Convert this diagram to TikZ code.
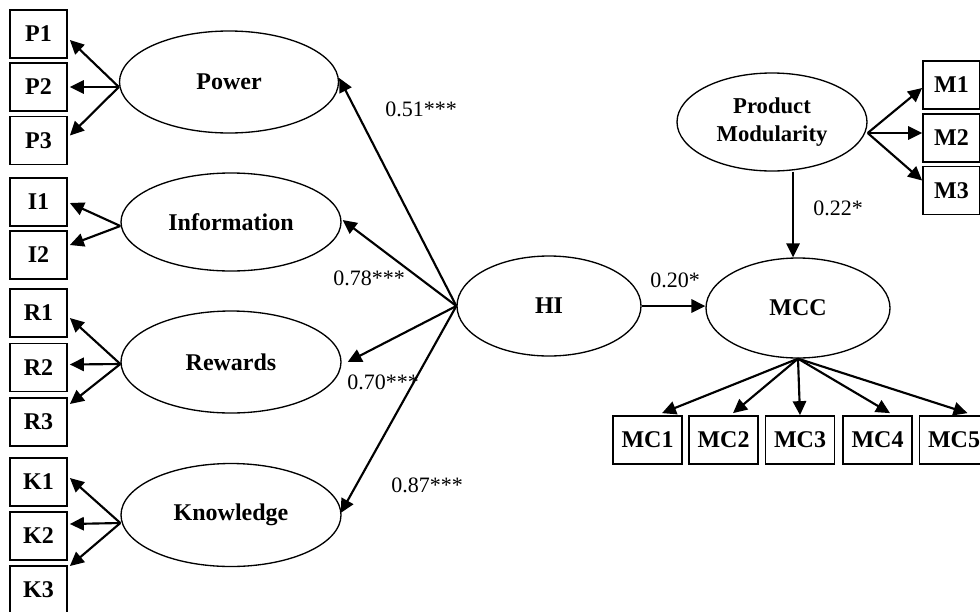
\documentclass[tikz,border=0pt]{standalone}
\usepackage{fontspec}
\setmainfont{Liberation Serif}
\usetikzlibrary{arrows.meta,calc,shapes.geometric}
\tikzset{
  latent/.style={ellipse,draw,line width=1pt,inner sep=0pt,align=center,
    font=\fontsize{18}{21}\selectfont\bfseries},
  esize/.style 2 args={minimum width=#1*0.75pt,minimum height=#2*0.75pt},
  ind/.style={rectangle,draw,line width=1.3pt,inner sep=0pt,
    minimum width=42.75pt,minimum height=36pt,
    font=\fontsize{18}{21}\selectfont\bfseries},
  mcbox/.style={ind,minimum width=51.75pt},
  coef/.style={inner sep=0pt,font=\fontsize{16.5}{19}\selectfont},
  arr/.style={line width=1.6pt,-{Triangle[length=10.5pt,width=10pt]}}
}
\begin{document}
\begin{tikzpicture}[x=0.75pt,y=-0.75pt]
\useasboundingbox (0,0) rectangle (980,611);
\clip (0,0) rectangle (980,611);

% latent constructs
\node[latent,esize={219}{102}] (Power) at (229,82)  {Power};
\node[latent,esize={220}{98}]  (Info)  at (231,222) {Information};
\node[latent,esize={220}{102}] (Rew)   at (231,362) {Rewards};
\node[latent,esize={220}{103}] (Know)  at (231,515) {Knowledge};
\node[latent,esize={184}{100}] (HI)    at (549,306) {HI};
\node[latent,esize={184}{100}] (MCC)   at (798,308) {MCC};
\node[latent,esize={190}{98},font=\fontsize{17}{21}\selectfont\bfseries]
  (PM) at (772,122) {Product\\Modularity};

% indicator boxes, left column
\node[ind] (P1) at (38.5,34)  {P1};
\node[ind] (P2) at (38.5,87)  {P2};
\node[ind] (P3) at (38.5,140.5) {P3};
\node[ind] (I1) at (38.5,202) {I1};
\node[ind] (I2) at (38.5,255) {I2};
\node[ind] (R1) at (38.5,313) {R1};
\node[ind] (R2) at (38.5,367.5) {R2};
\node[ind] (R3) at (38.5,422) {R3};
\node[ind] (K1) at (38.5,482) {K1};
\node[ind] (K2) at (38.5,536) {K2};
\node[ind] (K3) at (38.5,590) {K3};

% indicator boxes, modularity
\node[ind] (M1) at (951.5,85)    {M1};
\node[ind] (M2) at (951.5,138)   {M2};
\node[ind] (M3) at (951.5,190.5) {M3};

% indicator boxes, MCC
\node[mcbox] (MC1) at (647.5,440) {MC1};
\node[mcbox] (MC2) at (723.5,440) {MC2};
\node[mcbox] (MC3) at (800,440)   {MC3};
\node[mcbox] (MC4) at (877.5,440) {MC4};
\node[mcbox] (MC5) at (954,440)   {MC5};

% measurement arrows
\coordinate (pw) at ($(Power.west)+(0,5)$);
\draw[arr] (pw) -- ($(P1.east)+(2,6)$);
\draw[arr] (pw) -- ($(P2.east)+(2,0)$);
\draw[arr] (pw) -- ($(P3.east)+(2,-5)$);
\coordinate (iw) at ($(Info.west)+(0,4)$);
\draw[arr] (iw) -- ($(I1.east)+(2,1)$);
\draw[arr] (iw) -- ($(I2.east)+(2,-10)$);
\coordinate (rw) at ($(Rew.west)+(0,2)$);
\draw[arr] (rw) -- ($(R1.east)+(2,5)$);
\draw[arr] (rw) -- ($(R2.east)+(2,-3)$);
\draw[arr] (rw) -- ($(R3.east)+(2,-18)$);
\coordinate (kw) at ($(Know.west)+(0,8)$);
\draw[arr] (kw) -- ($(K1.east)+(2,-4)$);
\draw[arr] (kw) -- ($(K2.east)+(2,-12)$);
\draw[arr] (kw) -- ($(K3.east)+(2,-24)$);

\coordinate (pe) at ($(PM.east)+(0,11)$);
\draw[arr] (pe) -- ($(M1.west)+(0,3)$);
\draw[arr] (pe) -- ($(M2.west)+(0,-5)$);
\draw[arr] (pe) -- ($(M3.west)+(0,-10)$);

\draw[arr] (MCC.south) -- ($(MC1.north)+(14.5,-2)$);
\draw[arr] (MCC.south) -- ($(MC2.north)+(9.5,-2)$);
\draw[arr] (MCC.south) -- (MC3.north);
\draw[arr] (MCC.south) -- ($(MC4.north)+(12.5,-2)$);
\draw[arr] (MCC.south) -- ($(MC5.north)+(13.5,-2)$);

% structural paths
\draw[arr] (HI.west) -- ($(Power.east)+(0,-4)$);
\draw[arr] (HI.west) -- ($(Info.east)+(1,-2)$);
\draw[arr] (HI.west) -- ($(Rew.east)+(6,0)$);
\draw[arr] (HI.west) -- ($(Know.east)+(-1,-2)$);
\draw[arr] (HI.east) -- (HI.east -| MCC.west);
\coordinate (mt) at ($(MCC.north)+(-5,0)$);
\draw[arr] (mt |- PM.south) -- (mt);

% path coefficients
\node[coef] (c1) at (421,109) {0.51***};
\node[coef] (c2) at (369,278) {0.78***};
\node[coef] (c3) at (383,382) {0.70***};
\node[coef] (c4) at (427,485) {0.87***};
\node[coef] (c5) at (675,280) {0.20*};
\node[coef] (c6) at (838,208) {0.22*};
\end{tikzpicture}
\end{document}
